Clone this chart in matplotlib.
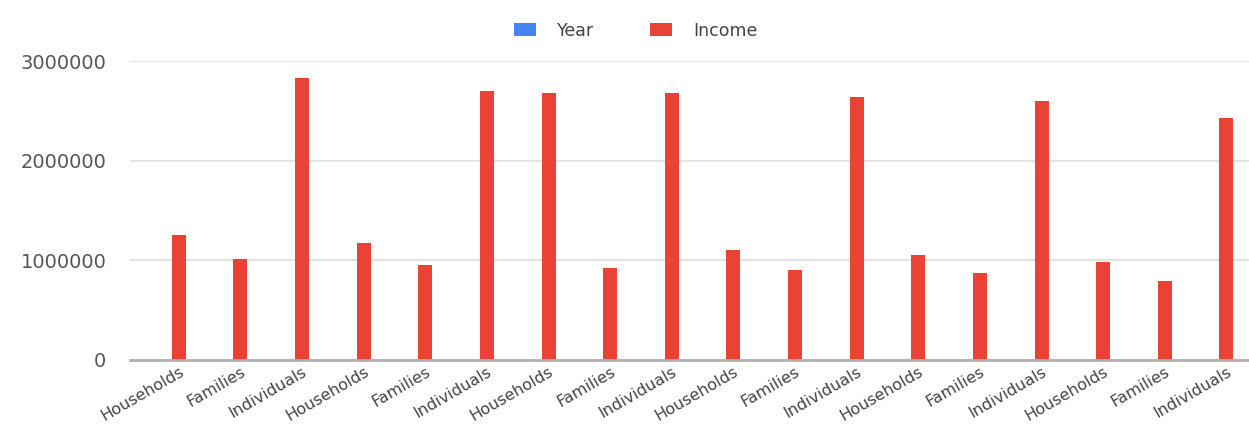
import numpy as np
import matplotlib.pyplot as plt

# Datos
categorias = ['Households', 'Families', 'Individuals'] * 6
anios = [2020, 2020, 2020, 2019, 2019, 2019, 2018, 2018, 2018,
         2017, 2017, 2017, 2016, 2016, 2016, 2015, 2015, 2015]
ingresos = [1250000, 1010000, 2830000, 1170000, 955000, 2700000,
            2680000, 920000, 2680000, 1100000, 900000, 2640000,
            1050000, 875000, 2600000, 980000, 790000, 2430000]

azul = '#4285F4'
rojo = '#EA4335'

fig = plt.figure(figsize=(12.49, 4.28), dpi=100)
ax = fig.add_axes([0.104, 0.159, 0.896, 0.698])

x = np.arange(len(categorias))
ancho = 0.227
ax.bar(x - ancho / 2, anios, ancho, color=azul, label='Year', zorder=3)
ax.bar(x + ancho / 2, ingresos, ancho, color=rojo, label='Income', zorder=3)

ax.set_xlim(-0.68, 17.48)
ax.set_ylim(0, 3000000)
ax.set_yticks([0, 1000000, 2000000, 3000000])
ax.set_yticklabels(['0', '1000000', '2000000', '3000000'])
ax.grid(axis='y', color='#e3e3e3', linewidth=1.5, zorder=0)
for lado in ['top', 'right', 'left']:
    ax.spines[lado].set_visible(False)
ax.spines['bottom'].set_color('#b0b0b0')
ax.spines['bottom'].set_linewidth(2)
ax.spines['bottom'].set_zorder(4)

ax.tick_params(axis='y', length=0, pad=17, labelsize=14, labelcolor='#555555')
ax.tick_params(axis='x', length=0, pad=3, labelsize=11.5, labelcolor='#444444')
# las etiquetas terminan junto a la barra roja
ax.set_xticks(x + ancho / 2)
ax.set_xticklabels(categorias, rotation=30, ha='right', rotation_mode='anchor')

ax.legend(loc='lower center', bbox_to_anchor=(0.452, 1.02), ncol=2, frameon=False,
          fontsize=12.5, handlelength=1.3, handleheight=0.8, columnspacing=3.2,
          handletextpad=1.2, labelcolor='#444444')

fig.savefig('out.png', dpi=100)
